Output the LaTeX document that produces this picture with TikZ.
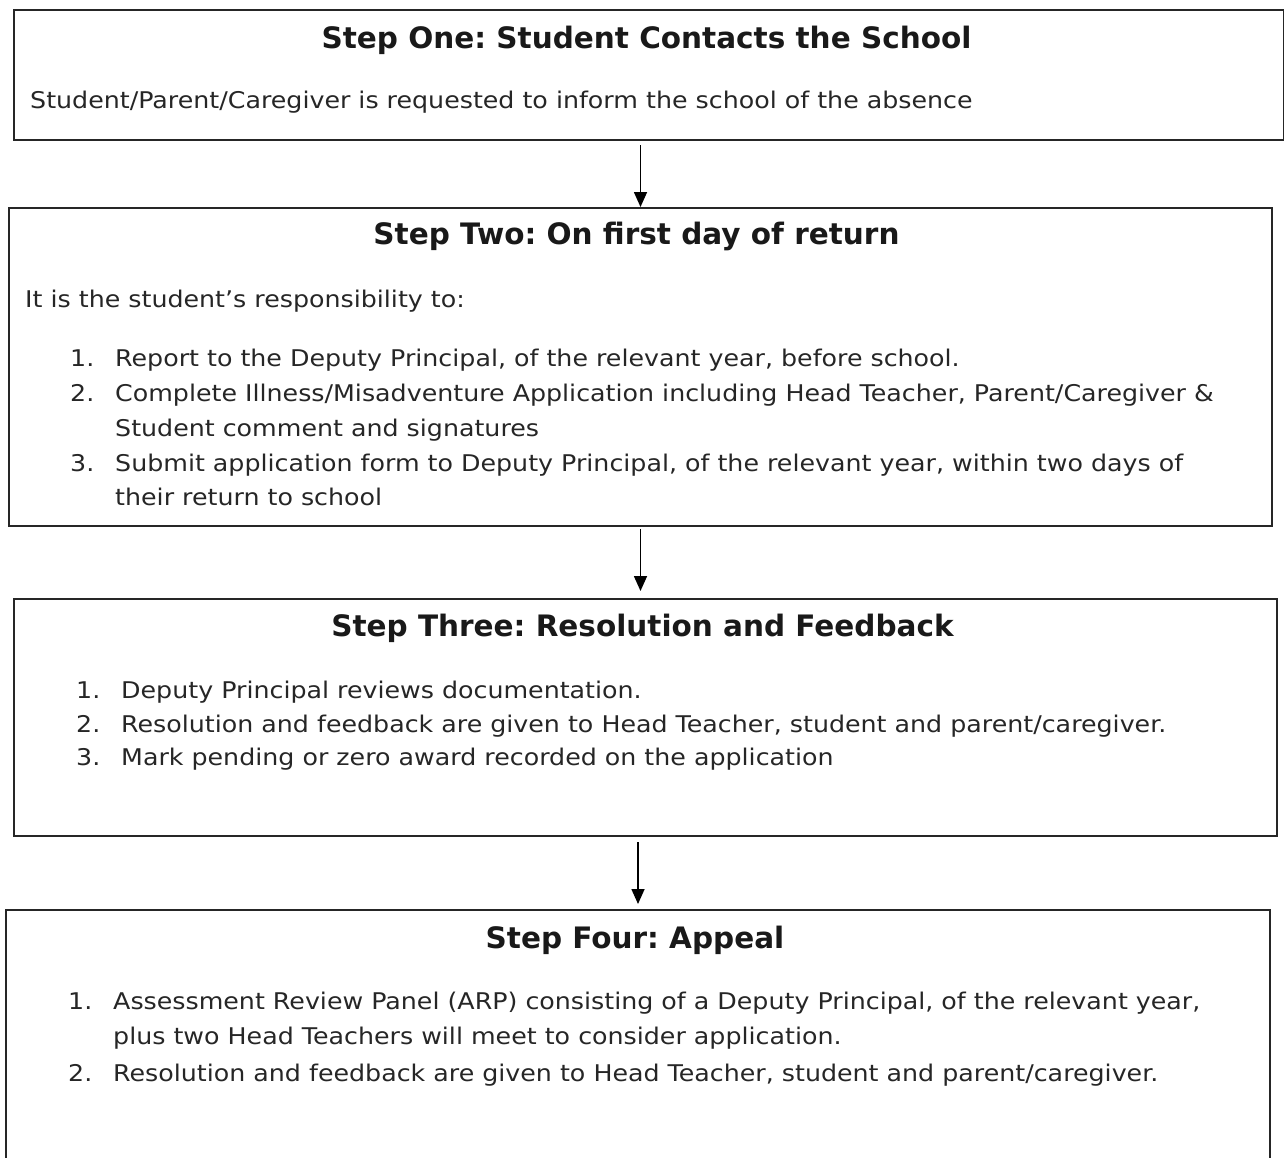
\documentclass[tikz,border=0pt]{standalone}
\usepackage{fontspec}
\setmainfont{DejaVu Sans}
\newfontfamily\bodyfont[FakeStretch=1.10]{DejaVu Sans}
\usetikzlibrary{arrows.meta}
\begin{document}
\frenchspacing
\begin{tikzpicture}[x=1pt,y=-1pt,
  box/.style={draw=black!85, line width=2pt, inner sep=0pt, anchor=north west},
  ttl/.style={font=\bfseries\fontsize{29.5}{33}\selectfont, inner sep=0pt, anchor=base, text=black!90},
  txt/.style={font=\bodyfont\fontsize{23}{27}\selectfont, inner sep=0pt, anchor=base west, text=black!85},
  arr/.style={line width=1.6pt, -{Triangle[length=15pt,width=13pt]}}]
\clip (0,0) rectangle (1284,1157);
\fill[white] (0,0) rectangle (1284,1157);
% boxes
\node[box, minimum width=1270pt, minimum height=130pt] (b1) at (13,9) {};
\node[box, minimum width=1263pt, minimum height=318pt] (b2) at (8,207) {};
\node[box, minimum width=1263pt, minimum height=237pt] (b3) at (13,598) {};
\node[box, minimum width=1264pt, minimum height=270pt] (b4) at (5,909) {};
% box 1
\node[ttl] (t1) at (646.5,48) {Step One: Student Contacts the School};
\node[txt] (s1) at (30,108) {Student/Parent/Caregiver is requested to inform the school of the absence};
% box 2
\node[ttl] (t2) at (636.5,244) {Step Two: On first day of return};
\node[txt] (s2) at (25,307) {It is the student’s responsibility to:};
\node[txt] (n21) at (70,366) {1.};
\node[txt] (i21) at (115,366) {Report to the Deputy Principal, of the relevant year, before school.};
\node[txt] (n22) at (70,401) {2.};
\node[txt] (i22) at (115,401) {Complete Illness/Misadventure Application including Head Teacher, Parent/Caregiver \&};
\node[txt] (i22b) at (115,436) {Student comment and signatures};
\node[txt] (n23) at (70,471) {3.};
\node[txt] (i23) at (115,471) {Submit application form to Deputy Principal, of the relevant year, within two days of};
\node[txt] (i23b) at (115,505) {their return to school};
% box 3
\node[ttl] (t3) at (642.5,636) {Step Three: Resolution and Feedback};
\node[txt] (n31) at (76,698) {1.};
\node[txt] (i31) at (121,698) {Deputy Principal reviews documentation.};
\node[txt] (n32) at (76,732) {2.};
\node[txt] (i32) at (121,732) {Resolution and feedback are given to Head Teacher, student and parent/caregiver.};
\node[txt] (n33) at (76,765) {3.};
\node[txt] (i33) at (121,765) {Mark pending or zero award recorded on the application};
% box 4
\node[ttl] (t4) at (635,948) {Step Four: Appeal};
\node[txt] (n41) at (68,1009) {1.};
\node[txt] (i41) at (113,1009) {Assessment Review Panel (ARP) consisting of a Deputy Principal, of the relevant year,};
\node[txt] (i41b) at (113,1044) {plus two Head Teachers will meet to consider application.};
\node[txt] (n42) at (68,1081) {2.};
\node[txt] (i42) at (113,1081) {Resolution and feedback are given to Head Teacher, student and parent/caregiver.};
% arrows
\draw[arr, shorten <=4pt] (b1.south -| b2.north) -- (b2.north);
\draw[arr, shorten <=2pt, shorten >=7pt] (b2.south) -- (b2.south |- b3.north);
\draw[arr, shorten <=5pt, shorten >=5pt] (b3.south -| b4.north) -- (b4.north);
\end{tikzpicture}
\end{document}
